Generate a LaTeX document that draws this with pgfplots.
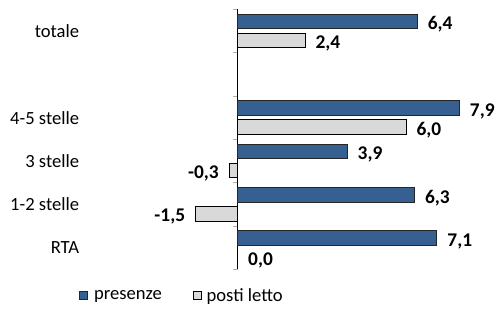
\documentclass[border=0pt]{standalone}
\usepackage{fontspec}
\setmainfont{Carlito}
\usepackage{pgfplots}
\pgfplotsset{compat=1.18}
\definecolor{presblue}{HTML}{376092}
\definecolor{postigray}{HTML}{D9D9D9}
\newcommand{\fs}{\fontsize{18.6}{22}\selectfont}
\newcommand{\fb}{\fontsize{19.4}{23}\selectfont\bfseries}
\begin{document}
\begin{tikzpicture}
\useasboundingbox (0,0) rectangle (497pt,311pt);
\begin{axis}[
  at={(153.5pt,41.7pt)}, anchor=south west,
  scale only axis, width=336.8pt, height=260pt,
  xmin=-3, xmax=9, ymin=-0.5, ymax=5.5,
  xbar,
  axis x line=none, axis y line*=middle,
  y axis line style={black, line width=0.8pt},
  ytick={0,1,2,3,5},
  yticklabels={RTA,1-2 stelle,3 stelle,4-5 stelle,totale},
  minor ytick={-0.5,0.5,1.5,2.5,3.5,4.5,5.5},
  major tick length=0pt, minor tick length=5pt,
  tick align=outside,
  minor tick style={gray!60, line width=0.8pt},
  yticklabel style={font=\fs, anchor=east, inner xsep=0pt, xshift=-158.4pt},
  bar width=14.5pt,
  nodes near coords,
  point meta=explicit symbolic,
  visualization depends on={rawx \as \rawx},
  every node near coord/.append style={font=\fb, inner xsep=10pt, yshift=-3pt,
    /utils/exec={\ifdim\rawx pt<0pt \gdef\myanch{east}\else\gdef\myanch{west}\fi},
    anchor=\myanch},
  legend columns=2,
  legend style={draw=none, fill=none, inner sep=0pt, outer sep=0pt, font=\fs,
    at={(-0.2203,-0.102)}, anchor=west,
    /tikz/every even column/.append style={column sep=29pt}},
  legend cell align=left,
]
\addplot[xbar, bar shift=9.5pt, fill=presblue, draw=black!85, line width=1pt,
  legend image code/.code={\draw[fill=presblue, draw=black!85, line width=0.8pt] (0pt,-4pt) rectangle (8pt,4pt);}]
  coordinates {(6.4,5) [6,4] (7.9,3) [7,9] (3.9,2) [3,9] (6.3,1) [6,3] (7.1,0) [7,1]};
\addlegendentry{\hspace{4pt}presenze}
\addplot[xbar, bar shift=-9.5pt, fill=postigray, draw=black, line width=1pt,
  legend image code/.code={\draw[fill=postigray, draw=black, line width=0.8pt] (0pt,-4pt) rectangle (8pt,4pt);}]
  coordinates {(2.4,5) [2,4] (6.0,3) [6,0] (-0.3,2) [-0,3] (-1.5,1) [-1,5] (0.0,0) [0,0]};
\addlegendentry{\hspace{3pt}posti letto}
\end{axis}
\end{tikzpicture}
\end{document}
